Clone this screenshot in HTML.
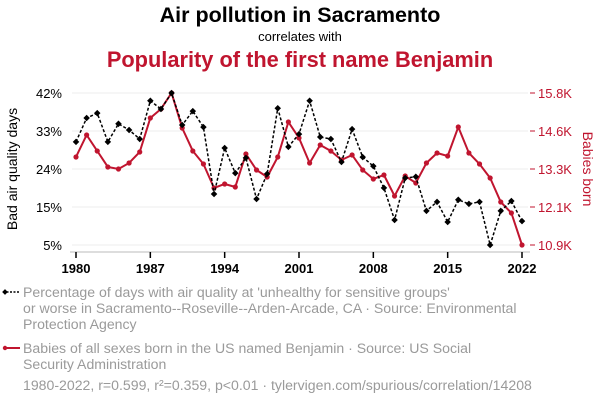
<!DOCTYPE html>
<html><head><meta charset="utf-8"><style>
body{margin:0;background:#fff;width:600px;height:408px;overflow:hidden;font-family:"Liberation Sans",sans-serif}
</style></head><body>
<svg width="600" height="408" xmlns="http://www.w3.org/2000/svg" style="font-family:'Liberation Sans',sans-serif">
<text x="300" y="22" text-anchor="middle" font-size="21.5" font-weight="bold" fill="#000">Air pollution in Sacramento</text>
<text x="300" y="41" text-anchor="middle" font-size="13" fill="#000">correlates with</text>
<text x="300" y="67" text-anchor="middle" font-size="21.8" font-weight="bold" fill="#c0152f">Popularity of the first name Benjamin</text>
<text transform="translate(17,169) rotate(-90)" text-anchor="middle" font-size="14" fill="#000">Bad air quality days</text>
<text transform="translate(583,169) rotate(90)" text-anchor="middle" font-size="14" fill="#c0152f">Babies born</text>
<g id="grid"></g><g id="axes"></g><g id="marks"></g>
<g font-size="14.1" fill="#9a9a9a">
<line x1="3" y1="292" x2="20" y2="292" stroke="#000" stroke-width="1.5" stroke-dasharray="2,1.5"/>
<rect x="3" y="290" width="4" height="4" fill="#000" transform="rotate(45 5 292)"/>
<text x="23" y="297"><tspan x="23">Percentage of days with air quality at 'unhealthy for sensitive groups'</tspan><tspan x="23" dy="16">or worse in Sacramento--Roseville--Arden-Arcade, CA · Source: Environmental</tspan><tspan x="23" dy="16">Protection Agency</tspan></text>
<line x1="3" y1="348" x2="20" y2="348" stroke="#c0152f" stroke-width="2"/>
<circle cx="5" cy="348" r="2.2" fill="#c0152f"/>
<text x="23" y="353"><tspan x="23">Babies of all sexes born in the US named Benjamin · Source: US Social</tspan><tspan x="23" dy="16">Security Administration</tspan></text>
<text x="23" y="390">1980-2022, r=0.599, r²=0.359, p&lt;0.01 · tylervigen.com/spurious/correlation/14208</text>
</g>
</svg>
<script>
const years=[];for(let y=1980;y<=2022;y++)years.push(y);
const airValues=[30.1,35.9,37.1,30.1,34.5,33.0,30.8,40.1,38.1,42.0,34.2,37.6,33.7,17.4,28.6,22.5,26.2,16.2,22.3,38.3,28.9,32.0,40.1,31.3,30.8,25.2,33.2,26.4,24.2,18.9,11.1,21.3,21.6,13.3,15.5,10.6,16.0,15.0,15.5,5.0,13.3,15.7,10.8];
const babyValues=[13737,14446,13931,13415,13350,13544,13898,14994,15285,15800,14672,13931,13511,12738,12867,12770,13834,13318,13092,13737,14866,14350,13544,14124,13931,13640,13802,13318,13028,13157,12480,13125,12899,13544,13866,13769,14704,13866,13511,13060,12286,11932,10900];
const leftTicks=[5,14.25,23.5,32.75,42];
const leftLabels=['5%','15%','24%','33%','42%'];
const rightTicks=[10900,12125,13350,14575,15800];
const rightLabels=['10.9K','12.1K','13.3K','14.6K','15.8K'];
const xTicks=[1980,1987,1994,2001,2008,2015,2022];
const NS='http://www.w3.org/2000/svg';
const X=v=>76+(v-1980)*(522-76)/42;
const YL=v=>245-(v-5)*(152/37);
const YR=v=>245-(v-10900)*(152/4900);
function mk(t,a,p){const e=document.createElementNS(NS,t);for(const k in a)e.setAttribute(k,a[k]);p.appendChild(e);return e;}
const grid=document.getElementById('grid'),axes=document.getElementById('axes'),marks=document.getElementById('marks');
leftTicks.forEach((t,i)=>{
 const g=mk('line',{x1:72,x2:528,y1:YL(t),y2:YL(t),stroke:'#eeeeee','stroke-width':1},grid);
 
 const l=mk('text',{x:62,y:YL(t)+5,'text-anchor':'end','font-size':13,fill:'#000'},axes);l.textContent=leftLabels[i];
 
});
rightTicks.forEach((t,i)=>{
 const l=mk('text',{x:538,y:YR(t)+5,'font-size':13,fill:'#c0152f'},axes);l.textContent=rightLabels[i];
 
 mk('line',{x1:530,x2:535,y1:YR(t),y2:YR(t),stroke:'#c0152f'},axes);
});
const ax=mk('line',{x1:70,x2:530,y1:252,y2:252,stroke:'#bbb','stroke-width':1},axes);

xTicks.forEach(t=>{
 mk('line',{x1:X(t),x2:X(t),y1:252,y2:258,stroke:'#000','stroke-width':1.5},axes);
 const l=mk('text',{x:X(t),y:273,'text-anchor':'middle','font-size':13,'font-weight':'bold',fill:'#000'},axes);l.textContent=t;
 
});
const rp=mk('polyline',{points:years.map((y,i)=>X(y)+','+YR(babyValues[i])).join(' '),fill:'none',stroke:'#c0152f','stroke-width':2},marks);

years.forEach((y,i)=>{const c=mk('circle',{cx:X(y),cy:YR(babyValues[i]),r:2.6,fill:'#c0152f'},marks);
 });
const bp=mk('polyline',{points:years.map((y,i)=>X(y)+','+YL(airValues[i])).join(' '),fill:'none',stroke:'#000','stroke-width':1.5,'stroke-dasharray':'3,2'},marks);

years.forEach((y,i)=>{const x=X(y),yy=YL(airValues[i]);const d=mk('rect',{x:x-2.3,y:yy-2.3,width:4.6,height:4.6,fill:'#000',transform:`rotate(45 ${x} ${yy})`},marks);
 });
</script>
</body></html>
